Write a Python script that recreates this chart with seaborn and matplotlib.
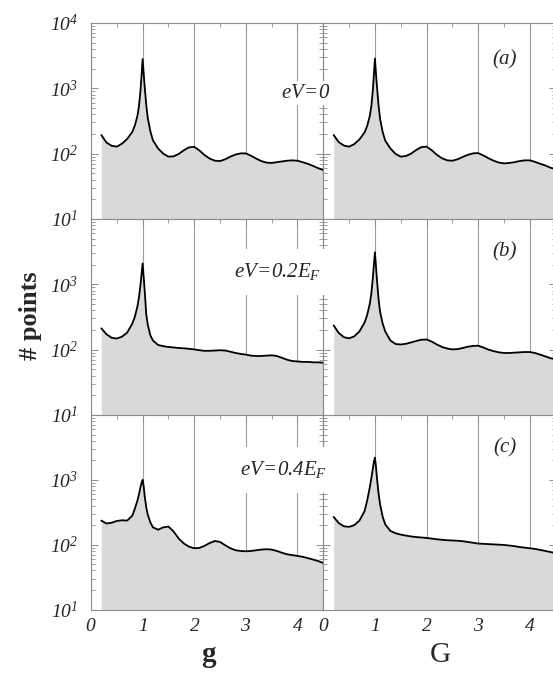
import numpy as np
import pandas as pd
import matplotlib
matplotlib.use("Agg")
import matplotlib.pyplot as plt
import matplotlib.ticker as mticker
import seaborn as sns

# Sample positions (shared by all six panels)
g_vals = [0.2, 0.3, 0.4, 0.5, 0.6, 0.7, 0.8,
          0.85, 0.9, 0.93, 0.96, 0.98, 1.0, 1.02, 1.04, 1.07, 1.1, 1.15,
          1.2, 1.3, 1.4, 1.5, 1.6, 1.7, 1.8, 1.9, 2.0, 2.1, 2.2, 2.3, 2.4, 2.5, 2.6, 2.7, 2.8, 2.9,
          3.0, 3.1, 3.2, 3.3, 3.4, 3.5, 3.6, 3.7, 3.8, 3.9, 4.0, 4.1, 4.2, 4.3, 4.4, 4.5]

# (a) eV=0
a_g = [193, 148, 132, 128, 142, 168, 215,
       270, 380, 540, 950, 1600, 2800, 1700, 1050, 560, 350, 220,
       160, 120, 100, 90, 91, 99, 113, 125, 127, 112, 95, 84, 78, 77, 82, 90, 97, 101,
       101, 93, 84, 77, 73, 72, 74, 76, 78, 79, 78, 74, 70, 65, 60, 56]
a_G = [193, 150, 133, 128, 140, 165, 212,
       265, 375, 530, 940, 1600, 2850, 1700, 1050, 550, 340, 215,
       158, 120, 99, 90, 92, 100, 114, 126, 128, 113, 96, 85, 79, 78, 82, 89, 96, 101,
       102, 94, 85, 78, 73, 71, 72, 74, 77, 79, 79, 75, 70, 66, 61, 58]

# (b) eV=0.2E_F
b_g = [212, 172, 152, 148, 158, 182, 250,
       320, 460, 640, 1000, 1450, 2090, 1300, 800, 350, 240, 165,
       138, 118, 113, 110, 108, 106, 105, 103, 101, 98, 96, 96, 97, 98, 97, 93, 89, 86,
       84, 81, 80, 80, 81, 82, 80, 75, 70, 67, 66, 65, 65, 64, 64, 63]
b_G = [235, 180, 155, 149, 160, 190, 260,
       340, 500, 720, 1250, 2000, 3100, 1900, 1150, 600, 380, 250,
       190, 138, 122, 120, 123, 129, 136, 142, 143, 133, 120, 110, 104, 101, 102, 106, 111, 114,
       115, 108, 100, 95, 91, 89, 89, 90, 91, 92, 92, 89, 84, 79, 74, 71]

# (c) eV=0.4E_F
c_g = [235, 212, 218, 232, 238, 235, 280,
       360, 480, 600, 780, 900, 1000, 800, 560, 380, 290, 220,
       185, 170, 185, 190, 160, 124, 104, 93, 88, 89, 96, 106, 114, 110, 98, 88, 82, 80,
       79, 80, 82, 84, 85, 84, 80, 75, 71, 69, 67, 65, 62, 59, 56, 52]
c_G = [268, 215, 192, 188, 200, 235, 330,
       480, 760, 1050, 1500, 1900, 2200, 1600, 1050, 620, 420, 270,
       205, 163, 150, 143, 138, 134, 131, 129, 127, 124, 121, 119, 117, 116, 115, 113, 110, 107,
       104, 103, 102, 101, 100, 99, 97, 95, 92, 90, 88, 86, 83, 80, 77, 74]

panels = [[a_g, a_G], [b_g, b_G], [c_g, c_G]]
energy_labels = [r"$eV\!=\!0$", r"$eV\!=\!0.2E_F$", r"$eV\!=\!0.4E_F$"]
panel_tags = ["(a)", "(b)", "(c)"]

sns.set_style("ticks")
plt.rcParams["font.family"] = ["Liberation Serif", "DejaVu Serif"]
plt.rcParams["mathtext.fontset"] = "custom"
plt.rcParams["mathtext.rm"] = "Liberation Serif:italic"
plt.rcParams["mathtext.it"] = "Liberation Serif:italic"
plt.rcParams["mathtext.bf"] = "Liberation Serif:bold"

W, H = 553, 673
fig = plt.figure(figsize=(W / 100, H / 100), dpi=100)

col_left = [91, 323.3]
axw = 232.3
row_top = [23, 219, 415]
axh = [196, 196, 194.5]
fill_col = "#d9d9d9"
edge_col = "#8c8c8c"

for i in range(3):
    for j in range(2):
        ax = fig.add_axes([col_left[j] / W, 1 - (row_top[i] + axh[i]) / H, axw / W, axh[i] / H])
        df = pd.DataFrame({"g": g_vals, "n": panels[i][j]})
        ax.fill_between(df["g"], df["n"], 1, color=fill_col, lw=0, zorder=1)
        sns.lineplot(data=df, x="g", y="n", ax=ax, color="black", lw=1.3, zorder=3)
        ax.set_yscale("log")
        ax.set_xlim(0, 4.5)
        ax.set_ylim(10, 1e4)
        ax.set_xlabel("")
        ax.set_ylabel("")

        ax.xaxis.set_major_locator(mticker.MultipleLocator(1))
        ax.xaxis.set_minor_locator(mticker.MultipleLocator(0.5))
        ax.yaxis.set_major_locator(mticker.LogLocator(base=10, numticks=10))
        ax.yaxis.set_minor_locator(mticker.LogLocator(base=10, subs=np.arange(2, 10), numticks=10))
        ax.yaxis.set_minor_formatter(mticker.NullFormatter())
        ax.xaxis.set_major_formatter(mticker.FuncFormatter(lambda v, p: r"$%d$" % round(v)))
        ax.yaxis.set_major_formatter(mticker.FuncFormatter(
            lambda v, p, top=(i == 0): r"$10^{%d}$" % round(np.log10(v))
            if (v < 5000 or top) else ""))

        ax.grid(True, axis="x", which="major", color="#a0a0a0", lw=0.8)
        ax.set_axisbelow(True)
        ax.tick_params(which="both", direction="in", top=True, right=True,
                       color=edge_col, labelsize=14)
        ax.tick_params(which="major", length=5, width=0.7)
        ax.tick_params(which="minor", length=3, width=0.6)
        ax.tick_params(axis="y", pad=9)
        ax.tick_params(axis="x", pad=6)
        for s in ax.spines.values():
            s.set_color(edge_col)
            s.set_linewidth(0.8)
        if j == 1:
            ax.tick_params(labelleft=False)
        if i < 2:
            ax.tick_params(labelbottom=False)

# annotations drawn at figure level so they sit over both panels
fig.text(330 / W, 1 - 93 / H, energy_labels[0], ha="right", va="center", fontsize=15,
         bbox=dict(facecolor="white", edgecolor="none", pad=2))
fig.text(321 / W, 1 - 272 / H, energy_labels[1], ha="right", va="center", fontsize=15,
         bbox=dict(facecolor="white", edgecolor="none", pad=9))
fig.text(327 / W, 1 - 470 / H, energy_labels[2], ha="right", va="center", fontsize=15,
         bbox=dict(facecolor="white", edgecolor="none", pad=9))

for tag, yc in zip(panel_tags, [60, 252, 448]):
    fig.text(505 / W, 1 - yc / H, tag, ha="center", va="center", fontsize=15, style="italic")

fig.text(30 / W, 1 - 316 / H, "# points", rotation=90, ha="center", va="center",
         fontsize=19, fontweight="bold")
fig.text(208 / W, 1 - 655 / H, "g", ha="center", va="center", fontsize=21, fontweight="bold")
fig.text(440 / W, 1 - 655 / H, "G", ha="center", va="center", fontsize=21)

fig.savefig("out.png", dpi=100)
